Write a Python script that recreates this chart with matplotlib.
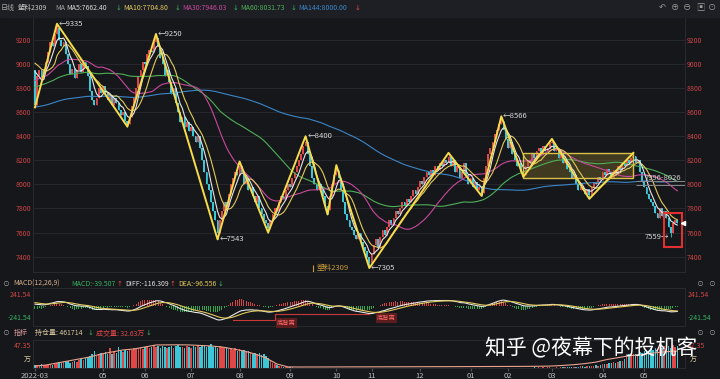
import numpy as np
import pandas as pd
import matplotlib
matplotlib.use("Agg")
import matplotlib.pyplot as plt
from matplotlib.patches import Rectangle

plt.rcParams['font.family'] = ['Noto Sans CJK SC', 'DejaVu Sans']

# ---- data ----
# closes before the first visible day (only used to warm up the averages)
warmup = [
    8100, 8150, 8200, 8120, 8080, 8150, 8220, 8180, 8100, 8160,
    8200, 8250, 8180, 8120, 8150, 8100, 8180, 8220, 8150, 8200,
    8400, 8450, 8500, 8550, 8600, 8650, 8600, 8700, 8750, 8700,
    8650, 8700, 8750, 8800, 8750, 8700, 8800, 8850, 8800, 8750,
    8850, 8900, 8850, 8800, 8900, 8950, 8900, 8850, 8800, 8850,
    8750, 8700, 8650, 8700, 8750, 8800, 8750, 8700, 8650, 8700,
    8750, 8800, 8850, 8800, 8750, 8800, 8850, 8900, 8950, 9000,
    9000, 9050, 9100, 9080, 9050, 9100, 9020, 9060, 9000, 8950,
]

# daily closes, 2022-03 .. 2023-05
closes = [
    8660, 8900, 8950, 8880, 8960, 9020, 9100, 9180, 9150, 9250, 9300,
    9200, 9150, 9180, 9080, 9000, 8920, 8960, 8880, 8950, 9000,
    8930, 9020, 8980, 8900, 8780, 8700, 8660, 8720, 8800, 8760,
    8820, 8760, 8700, 8740, 8660, 8720, 8680, 8620, 8580, 8600,
    8530, 8500,
    8560, 8650, 8720, 8800, 8900, 8950, 9020, 9000, 9080, 9120, 9100, 9180, 9220,
    9150, 9050, 9000, 8900, 8950, 8850, 8750, 8800, 8680, 8600,
    8520, 8560, 8480, 8520, 8440, 8480, 8400, 8350, 8400, 8300,
    8200, 8100, 8000, 7950, 7850, 7780, 7700, 7600,
    7700, 7780, 7850, 7820, 7920, 8000, 8050, 8100, 8080, 8150,
    8100, 8000, 8050, 7950, 7980, 7900, 7850, 7900, 7800, 7750, 7700, 7680, 7640,
    7700, 7750, 7800, 7780, 7850, 7900, 7880, 7950, 8000, 7980, 8050, 8100, 8150,
    8200, 8250, 8320, 8350,
    8250, 8150, 8050, 8000, 7950, 8000, 7950, 7900, 7820, 7790,
    7900, 8000, 8080, 8120,
    8050, 7950, 7850, 7750, 7700, 7650, 7620, 7580, 7550, 7600, 7520, 7480, 7450,
    7400, 7350,
    7420, 7500, 7550, 7480, 7560, 7620, 7580, 7650, 7700, 7660,
    7720, 7780, 7750, 7800, 7850, 7820, 7880, 7850, 7900, 7950,
    7920, 7980, 8030, 8000, 8060, 8100, 8080, 8120, 8080, 8150,
    8120, 8180, 8150, 8200, 8180, 8230,
    8150, 8200, 8100, 8150, 8050, 8100, 8180, 8080, 8000, 8050, 7980, 8020, 7950,
    7980, 7930,
    8050, 8150, 8250, 8300, 8350, 8420, 8450, 8500, 8530,
    8450, 8380, 8300, 8350, 8250, 8200, 8150, 8180, 8100, 8080,
    8150, 8200, 8180, 8250, 8220, 8280, 8300, 8250, 8320, 8280, 8300, 8340, 8350,
    8280, 8300, 8220, 8250, 8180, 8200, 8130, 8100, 8050, 8080, 8000, 7950, 7980,
    7950, 7920, 7960, 7910,
    7980, 8020, 8000, 8060, 8040, 8100, 8080, 8130, 8100, 8050,
    8120, 8080, 8150, 8120, 8180, 8150, 8200, 8180, 8220, 8240,
    8180, 8200, 8100, 8020, 7980, 7920, 7880, 7850, 7820, 7760,
    7720, 7800, 7740, 7780, 7720, 7650, 7600, 7680, 7700, 7680,
]

# zigzag turning points (day index, price)
piv_i = [0, 10, 42, 55, 83, 93, 106, 123, 133, 137, 152, 188, 203, 212, 222, 235, 252, 272]
piv_p = [8640, 9335, 8480, 9250, 7543, 8190, 7600, 8400, 7750, 8160, 7305, 8262, 7905,
         8566, 8063, 8378, 7880, 8262]
marks = {10: 9335, 55: 9250, 83: 7543, 123: 8400, 152: 7305, 212: 8566}
low_mark = (289, 7559)

month_idx = [0, 31, 50, 71, 93, 116, 137, 153, 175, 198, 215, 235, 258, 277]
month_lbl = ['2022-03', '05', '06', '07', '08', '09', '10', '11', '12', '01', '02', '03', '04', '05']

# volume (万手) per day
vol_a = [
    6, 7, 6, 8, 7, 6, 7, 8, 7, 8,
    11, 12, 10, 13, 12, 14, 11, 13, 15, 12,
    16, 18, 17, 20, 22, 25, 28, 36, 24, 30,
    32, 28, 34, 30, 42, 29, 33, 31, 44, 35,
    33, 38, 36, 40, 37, 42, 39, 41, 44, 40,
    43, 45, 41, 44, 47, 43, 46, 42, 45, 44,
    41, 44, 46, 42, 45, 47, 43, 44, 41, 46,
    44, 42, 45, 43, 47, 44, 46, 48, 43, 45,
    49, 44, 46, 42, 45, 43, 41, 44, 40, 42,
    38, 41, 36, 39, 35, 37, 34, 36, 33, 30,
    32, 29, 31, 27, 28, 24, 20, 15, 11, 8,
    6, 5, 4, 3, 3, 2, 2, 1.5, 1, 1,
]
vol_mid = [
    0.5, 0.4, 0.5, 0.4, 0.3, 0.4, 0.5, 0.4, 0.3, 0.4,
    0.4, 0.3, 0.4, 0.5, 0.4, 0.3, 0.4, 0.4, 0.3, 0.4,
    0.5, 0.4, 0.3, 0.4, 0.4, 0.5, 0.4, 0.3, 0.4, 0.4,
    0.3, 0.4, 0.5, 0.4, 0.3, 0.4, 0.4, 0.3, 0.4, 0.5,
    0.4, 0.3, 0.4, 0.4, 0.5, 0.4, 0.3, 0.4, 0.4, 0.3,
    0.4, 0.5, 0.4, 0.3, 0.4, 0.4, 0.3, 0.4, 0.5, 0.4,
    0.3, 0.4, 0.4, 0.5, 0.4, 0.3, 0.4, 0.4, 0.3, 0.4,
    0.5, 0.4, 0.3, 0.4, 0.4, 0.5, 0.4, 0.3, 0.4, 0.4,
    0.5, 0.5, 0.6, 0.5, 0.6, 0.5, 0.6, 0.7, 0.6, 0.7,
    0.6, 0.7, 0.8, 0.7, 0.8, 0.7, 0.8, 0.9, 0.8, 0.9,
    0.8, 0.9, 1.0, 0.9, 1.0, 0.9, 1.0, 1.1, 1.0, 1.1,
    1.0, 1.1, 1.0, 1.2, 1.1,
]
vol_b = [
    1, 1, 1.5, 1, 2, 1.5, 2, 2, 2.5, 2,
    3, 2.5, 3, 3.5, 4, 3, 4, 5, 4.5, 5,
    6, 5, 7, 8, 9, 8, 10, 11, 12, 10,
    13, 15, 14, 18, 26, 30, 32, 28, 30, 27,
    34, 31, 36, 38, 33, 40, 37, 42, 39, 44,
    41, 45, 43, 46, 42, 47, 44, 45,
]
# open interest (千手), one reading every 5 days, plus the last day
oi_every5 = [
    54, 80, 136, 190, 245, 300, 380, 435, 490, 516, 570, 625, 628, 630, 626, 612,
    598, 570, 516, 462, 380, 272, 109, 30,
    27, 28, 28, 29, 30, 31, 31, 32, 33, 33, 34, 35, 36, 36, 37, 38, 39, 40, 41,
    42, 43, 45, 48,
    54, 70, 90, 120, 160, 230, 280, 330, 360, 400, 430, 455,
]
oi_last = 461.714

# ---- layout helpers (pixel positions of the 720x379 picture) ----
W, H = 720, 379
BG = '#16171b'
GRID = '#2a2b30'
RED = '#e04848'
CYAN = '#3cc6d6'
GREEN = '#35b060'
YEL = '#e3c95a'
TXT = '#bdbdbd'


def fx(x):
    return x / W


def fy(y):
    return 1 - y / H


fig = plt.figure(figsize=(7.2, 3.79), dpi=100, facecolor=BG)


def panel(l, t, r, b):
    a = fig.add_axes([fx(l), fy(b), (r - l) / W, (b - t) / H])
    a.set_facecolor(BG)
    for s in a.spines.values():
        s.set_color('#2c2d33')
        s.set_linewidth(0.6)
    a.set_xlim(-0.9, 295.5)
    return a


def ftxt(x, y, s, c, size=5, **kw):
    fig.text(fx(x), fy(y), s, color=c, fontsize=size, va='center', **kw)


def arrow(x, y, s, c):
    # arrows drawn narrow, centred on x
    fig.text(fx(x), fy(y), s, color=c, fontsize=5, va='center', ha='center',
             family='DejaVu Sans')


# header band
fig.patches.append(Rectangle((0, fy(17)), 1, 17 / H, transform=fig.transFigure,
                             color='#1e1f24', zorder=0))

c = np.array(closes, float)
o = np.array([warmup[-1]] + closes[:-1], float)
idx = np.arange(len(c))
hi = np.maximum(o, c)
lo = np.minimum(o, c)
for i, p in zip(piv_i, piv_p):
    hi[i] = max(hi[i], p)
    lo[i] = min(lo[i], p)
lo[low_mark[0]] = min(lo[low_mark[0]], low_mark[1])
up = c >= o
col = np.where(up, RED, CYAN)

allc = pd.Series(warmup + closes, dtype=float)
n0 = len(warmup)

# ---- main panel ----
ax = panel(33, 17, 685, 272)
ax.set_ylim(7272, 9391)
for p in range(7400, 9400, 200):
    ax.axhline(p, color=GRID, lw=0.6, zorder=0)
ax.vlines(idx, lo, hi, colors=col, lw=0.6, zorder=2)
body_lo = np.minimum(o, c)
ax.bar(idx, np.maximum(np.abs(c - o), 8), bottom=body_lo, width=0.8, color=col,
       lw=0, zorder=2)

ma_cfg = [(144, '#3a86c8'), (60, '#4fae58'), (30, '#c8489c'), (10, YEL), (5, '#e6e6e6')]
for n, cl in ma_cfg:
    m = allc.rolling(n, min_periods=1).mean().values[n0:]
    ax.plot(idx, m, color=cl, lw=0.8, zorder=3)

# box and zigzag
ax.add_patch(Rectangle((222, 8050), 50, 215, facecolor='#8c7c2c', alpha=0.35,
                       edgecolor='none', zorder=1))
ax.add_patch(Rectangle((222, 8050), 50, 215, facecolor='none', edgecolor='#d8c24a',
                       lw=1.0, zorder=4))
ax.plot(piv_i, piv_p, color='#f6dc4a', lw=1.4, zorder=5)
for i, p in marks.items():
    ax.text(i + 0.8, p, '←' + str(p), color='#d8d8d8', fontsize=5.5, ha='left',
            va='center', zorder=6)
ax.text(low_mark[0] - 0.8, low_mark[1], str(low_mark[1]) + '→', color='#d8d8d8',
        fontsize=5.5, ha='right', va='center', zorder=6)

# 7996-8026 band and highlight box
ax.hlines([8026, 7996], 273, 295.5, colors='#8a8a8a', lw=0.7, zorder=3)
ax.text(277, 8050, '7996-8026', color='#d0d0d0', fontsize=5.5, va='center', zorder=6)
ax.add_patch(Rectangle((285.9, 7480), 8.2, 282, facecolor='none', edgecolor='#e03030',
                       lw=1.5, zorder=6))
ax.plot([294.5], [closes[-1]], marker='<', color='white', ms=3, clip_on=False, zorder=7)

# contract marker
ax.vlines(126.4, 7272, 7330, colors='#c89a3a', lw=0.8)
ax.text(128, 7305, '塑料2309', color='#c89a3a', fontsize=5.5, va='center')

ax.set_yticks(range(7400, 9400, 200))
ax.set_xticks([])
ax.tick_params(axis='y', length=0, labelsize=5, colors='#cc4444', pad=1.5,
               labelleft=True, labelright=True)

# ---- MACD panel ----
am = panel(33, 288, 685, 326)
ema12 = allc.ewm(span=12, adjust=False).mean()
ema26 = allc.ewm(span=26, adjust=False).mean()
diff = ema12 - ema26
dea = diff.ewm(span=9, adjust=False).mean()
hist = (2 * (diff - dea)).values[n0:]
diff = diff.values[n0:]
dea = dea.values[n0:]
am.set_ylim(-402, 362)
am.bar(idx, hist, width=0.45, color=np.where(hist >= 0, '#d24646', '#2fa84f'), lw=0)
am.plot(idx, diff, color='#e8e8e8', lw=0.8)
am.plot(idx, dea, color=YEL, lw=0.8)
am.plot([90, 109, 109, 152], [-281, -281, -161, -161], color='#c83a3a', lw=0.8)
am.text(110, -340, '底背离', color='#ff6a6a', fontsize=4.5, va='center',
        bbox=dict(boxstyle='square,pad=0.15', fc='#5a1c1c', ec='none'))
am.text(155.5, -241, '底背离', color='#ff6a6a', fontsize=4.5, va='center',
        bbox=dict(boxstyle='square,pad=0.15', fc='#5a1c1c', ec='none'))
am.set_xticks([])
am.set_yticks([])

# ---- volume / open interest panel ----
av = panel(33, 340, 685, 368)
vol = vol_a + vol_mid + vol_b
av.set_ylim(0, 58)
av.bar(idx, vol, width=0.7, color=col, lw=0)
ao = av.twinx()
ao.set_ylim(0, 760)
oi_x = list(np.arange(len(oi_every5)) * 5) + [idx[-1]]
ao.plot(oi_x, oi_every5 + [oi_last], color='#e8a48e', lw=0.8)
ao.set_yticks([])
ao.axis('off')
av.set_yticks([])
av.set_xticks(month_idx)
av.set_xticklabels(month_lbl)
av.tick_params(axis='x', length=2, color='#555555', labelsize=5.5, colors=TXT, pad=1)

# ---- texts ----
ftxt(1, 8, '日线', '#a8a8a8')
ftxt(18, 8, '塑料2309', '#c8c8c8')
ftxt(55, 8, 'MA', '#a8a8a8')
ftxt(66, 8, 'MA5:7662.40', '#d8d8d8')
arrow(118.5, 8, '↓', GREEN)
ftxt(123, 8, 'MA10:7704.80', YEL)
arrow(178, 8, '↓', GREEN)
ftxt(182, 8, 'MA30:7946.03', '#c8489c')
arrow(236, 8, '↓', GREEN)
ftxt(240, 8, 'MA60:8031.73', '#4fae58')
arrow(294, 8, '↓', GREEN)
ftxt(298, 8, 'MA144:8000.00', '#3a86c8')
arrow(358, 8, '↓', RED)
for xi, s in zip([662, 675, 687, 700, 712], ['↶', '⊕', '⊖', '▣', '⊙']):
    ftxt(xi, 7, s, '#9a9a9a', size=6, ha='center')

ftxt(6, 284, '⊙', '#9a9a9a', ha='center')
ftxt(13, 284, 'MACD(12,26,9)', '#d9b38c')
ftxt(71, 284, 'MACD:-39.507', GREEN)
arrow(120, 284, '↑', RED)
ftxt(125, 284, 'DIFF:-116.309', '#e0e0e0')
arrow(173, 284, '↑', RED)
ftxt(178, 284, 'DEA:-96.556', YEL)
arrow(221, 284, '↓', GREEN)
for xi in [700, 712]:
    ftxt(xi, 284, '⊙', '#9a9a9a', ha='center')
    ftxt(xi, 333, '⊙', '#9a9a9a', ha='center')

ftxt(31, 295, '241.54', '#cc4444', ha='right')
ftxt(31, 318, '-241.54', GREEN, ha='right')
ftxt(688, 295, '241.54', '#cc4444')
ftxt(688, 318, '-241.54', GREEN)

ftxt(6, 333, '⊙', '#9a9a9a', ha='center')
ftxt(14, 333, '指标', '#d89a9a')
ftxt(35, 333, '持仓量: 461714', '#d8c8a0')
arrow(91, 333, '↓', GREEN)
ftxt(96, 333, '成交量: 32.63万', RED)
arrow(149, 333, '↓', GREEN)
ftxt(31, 346, '47.35', '#cc4444', ha='right')
ftxt(31, 360, '万', '#d8c8a0', ha='right')
ftxt(688, 346, '47.35', '#cc4444')
ftxt(690, 360, '万', '#d8c8a0')

ftxt(485, 348, '知乎 @夜幕下的投机客', 'white', size=15)

fig.savefig('out.png', dpi=100, facecolor=BG)
